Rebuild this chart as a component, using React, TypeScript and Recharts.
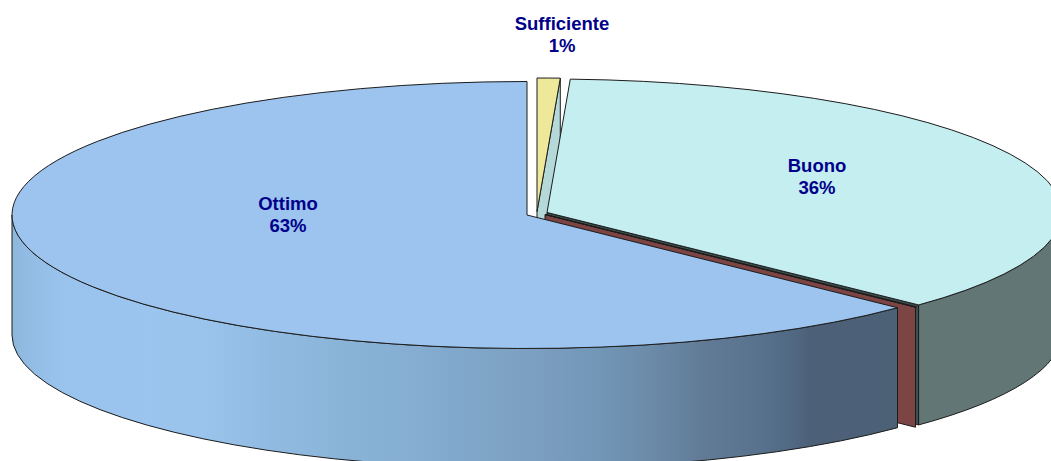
import React from "react";
import { PieChart, Pie } from "recharts";

const categories = ["Sufficiente", "Buono", "Insufficiente", "Ottimo"];
const shares = [0.72, 36.45, 0.05, 62.78];
const shownLabels = [true, true, false, true];

const rows = categories.map((name, i) => ({ name, value: shares[i] }));

const W = 1051, H = 461;
const CX = 527, CY = 215, RX = 515;
const SQUASH = 133.5 / 515;
const DEPTH = 120;
const LINE = "#1c1c1c";

type Look = { top: string; wall: string; endWall?: string; dx: number; dy: number; lx: number; ly: number };
const looks: Look[] = [
  { top: "#EEE99A", wall: "#9A9660", endWall: "#B5D8D8", dx: 10, dy: -3.5, lx: 35, ly: -192 },
  { top: "#C4EEF0", wall: "#627675", endWall: "#3C4F4E", dx: 20, dy: -2.5, lx: 290, ly: -50 },
  { top: "#7D4444", wall: "#7D4444", endWall: "#7D4444", dx: 18, dy: -0.5, lx: 0, ly: 0 },
  { top: "#9CC4EF", wall: "url(#ottimoWall)", dx: 0, dy: 0, lx: -239, ly: -12 },
];

const wallStops: [number, string][] = [
  [12, "#8DB7DC"], [30, "#92BCE4"], [60, "#99C3EC"], [150, "#9BC4EE"], [200, "#9BC4EC"], [260, "#91BCE3"],
  [300, "#8EB8DD"], [350, "#89B2D7"], [400, "#87AFD4"], [450, "#81A9CD"], [500, "#7EA3C4"], [550, "#7A9DBF"],
  [600, "#7196B6"], [650, "#6C8BA9"], [700, "#627C98"], [750, "#5A7490"], [790, "#516A83"], [810, "#4C6178"], [898, "#4C6076"],
];

const pt = (cx: number, cy: number, t: number) => {
  const a = (t * Math.PI) / 180;
  return [cx + RX * Math.sin(a), cy - RX * SQUASH * Math.cos(a)];
};
const arc = (to: number[], cw: boolean) => `A${RX} ${RX * SQUASH} 0 0 ${cw ? 1 : 0} ${to[0]} ${to[1]}`;
const arcPath = (cx: number, cy: number, t0: number, t1: number, cw: boolean) => {
  // split the arc so that no piece needs the large-arc flag
  const n = Math.ceil(Math.abs(t1 - t0) / 90);
  let s = "";
  for (let k = 1; k <= n; k++) s += arc(pt(cx, cy, t0 + ((t1 - t0) * k) / n), cw);
  return s;
};

function Slice(props: any) {
  const { cx, cy, startAngle, endAngle, index } = props;
  const look = looks[index];
  const ox = cx + look.dx, oy = cy + look.dy;
  const t0 = 90 - startAngle;
  const t1 = 90 - endAngle;
  const a = pt(ox, oy, t0), b = pt(ox, oy, t1);
  const walls: React.ReactNode[] = [];
  // the part of the rim that faces the viewer
  const w0 = Math.max(t0, 90), w1 = Math.min(t1, 270);
  if (look.endWall) {
    walls.push(
      <path key="end" d={`M${ox} ${oy}L${b[0]} ${b[1]}L${b[0]} ${b[1] + DEPTH}L${ox} ${oy + DEPTH}Z`} fill={look.endWall} stroke={LINE} strokeWidth={1} />
    );
  }
  if (w1 > w0 && w1 - w0 > 1) {
    const p = pt(ox, oy, w0), q = pt(ox, oy, w1);
    walls.push(
      <path
        key="rim"
        d={`M${p[0]} ${p[1]}${arcPath(ox, oy, w0, w1, true)}L${q[0]} ${q[1] + DEPTH}${arcPath(ox, oy + DEPTH, w1, w0, false)}Z`}
        fill={look.wall}
        stroke={LINE}
        strokeWidth={1}
      />
    );
  }
  return (
    <g>
      {index === 3 && (
        <defs>
          <linearGradient id="ottimoWall" gradientUnits="userSpaceOnUse" x1={0} x2={W} y1={0} y2={0}>
            {wallStops.map(([x, c]) => (
              <stop key={x} offset={x / W} stopColor={c} />
            ))}
          </linearGradient>
        </defs>
      )}
      {walls}
      <path
        d={`M${ox} ${oy}L${a[0]} ${a[1]}${arcPath(ox, oy, t0, t1, true)}Z`}
        fill={look.top}
        stroke={LINE}
        strokeWidth={1}
        strokeLinejoin="round"
      />
    </g>
  );
}

function SliceLabel(props: any) {
  const { cx, cy, index, name, percent } = props;
  if (!shownLabels[index]) return null;
  const look = looks[index];
  const x = cx + look.lx, y = cy + look.ly;
  return (
    <text x={x} y={y} textAnchor="middle" fill="#00008B" fontFamily="Liberation Sans" fontWeight="bold" fontSize={18.5}>
      <tspan x={x} dy={6.5}>{name}</tspan>
      <tspan x={x} dy={22}>{`${Math.round(percent * 100)}%`}</tspan>
    </text>
  );
}

export default function App() {
  return (
    <div style={{ position: "absolute", left: 0, top: 0, width: W, height: H, overflow: "hidden", background: "#fff" }}>
      <PieChart width={W} height={H} margin={{ top: 0, right: 0, bottom: 0, left: 0 }}>
        <Pie
          data={rows}
          dataKey="value"
          nameKey="name"
          cx={CX}
          cy={CY}
          innerRadius={0}
          outerRadius={RX}
          startAngle={90}
          endAngle={-270}
          stroke="none"
          shape={Slice}
          label={SliceLabel}
          labelLine={false}
          isAnimationActive={false}
        />
      </PieChart>
    </div>
  );
}
